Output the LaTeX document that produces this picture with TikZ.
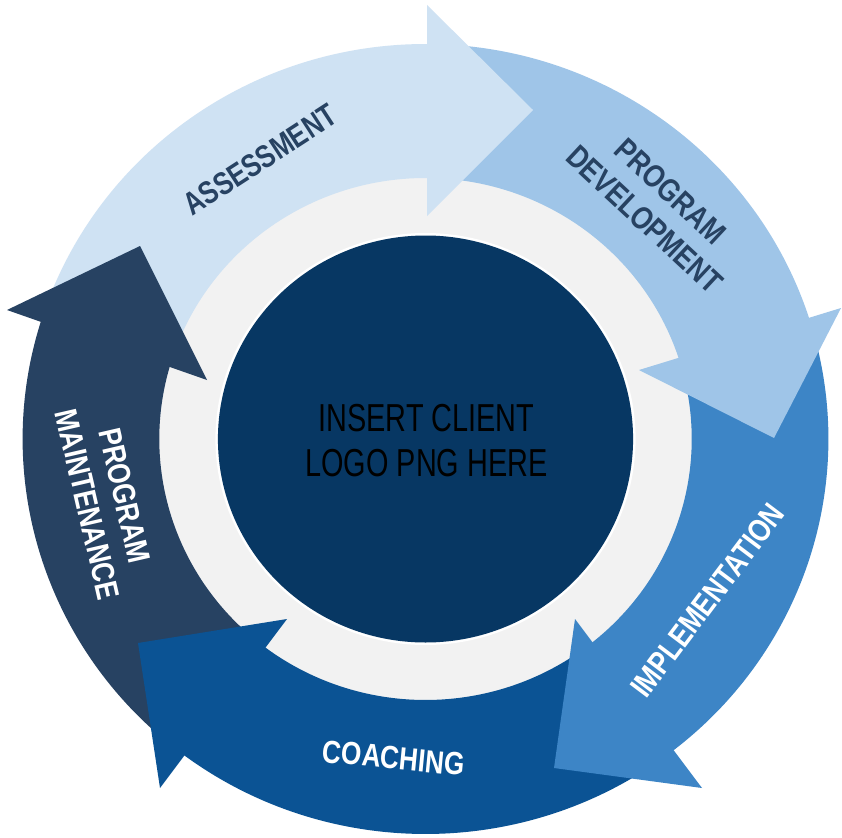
\documentclass[tikz,border=0pt]{standalone}
\usepackage{fontspec}
\setmainfont{Liberation Sans}
\newfontfamily\labfont[FakeStretch=0.82]{Liberation Sans}
\newfontfamily\logofont[FakeStretch=0.74]{Liberation Sans}
\definecolor{cAss}{HTML}{CFE2F3}
\definecolor{cDev}{HTML}{9FC5E8}
\definecolor{cImp}{HTML}{3D85C6}
\definecolor{cCoa}{HTML}{0B5394}
\definecolor{cMai}{HTML}{274262}
\definecolor{cCen}{HTML}{073763}
\definecolor{cGry}{HTML}{F2F2F2}
\tikzset{
  lab/.style={font=\labfont\bfseries\fontsize{32}{38}\selectfont, align=center, inner sep=0pt},
  darklab/.style={lab, text=cMai},
  lightlab/.style={lab, text=white},
}
\newcommand{\bandseg}[3]{%
  \fill[#1] (#2:395) arc[start angle=#2,end angle=#3,radius=395] -- (#3:261) arc[start angle=#3,end angle=#2,radius=261] -- cycle;}
\begin{document}
\begin{tikzpicture}[x=1pt,y=1pt]
\useasboundingbox (0,0) rectangle (842,-837);
\fill[white] (0,0) rectangle (842,-837);
\begin{scope}[shift={(425.5,-439)},xscale=1.02]
  \fill[cGry] (0,0) circle (263);
  % bands: each starts under the previous head and ends under its own head
  \bandseg{cAss}{161.2}{87.7}
  \bandseg{cDev}{87.7}{16}
  \bandseg{cImp}{16}{-53.7}
  \bandseg{cCoa}{-53.7}{-128.8}
  \bandseg{cMai}{-128.8}{-198.8}
\end{scope}
% heads
\fill[cAss] (427,-5) -- (533,-110) -- (427,-216) -- cycle;
\fill[cDev] (841,-308) -- (774,-438) -- (639,-370) -- cycle;
\fill[cImp] (702,-788) -- (554,-768) -- (575,-619) -- cycle;
\fill[cCoa] (160,-788) -- (138,-643) -- (287,-619) -- cycle;
\fill[cMai] (7,-310) -- (140,-246) -- (207,-380) -- cycle;
\begin{scope}[shift={(425.5,-439)},xscale=1.02]
  \fill[white] (0,0) circle (206);
  \fill[cCen] (0,0) circle (203.5);
\end{scope}
% labels
\node[darklab, rotate=33] (ass) at (260,-160) {\scalebox{0.97}[1]{ASSESSMENT}};
\node[darklab, rotate=-43] (dev) at (657.5,-205.5) {PROGRAM\\DEVELOPMENT};
\node[lightlab, rotate=53] (imp) at (707.5,-600.5) {IMPLEMENTATION};
\node[lightlab, rotate=-5.5] (coa) at (394,-758) {COACHING};
\node[lightlab, rotate=-77] (mai) at (106,-500) {PROGRAM\\MAINTENANCE};
\node[font=\logofont\fontsize{39}{45}\selectfont, align=center, inner sep=0pt, text=black] (logo) at (426.5,-440.5) {INSERT CLIENT\\LOGO PNG HERE};
\end{tikzpicture}
\end{document}
